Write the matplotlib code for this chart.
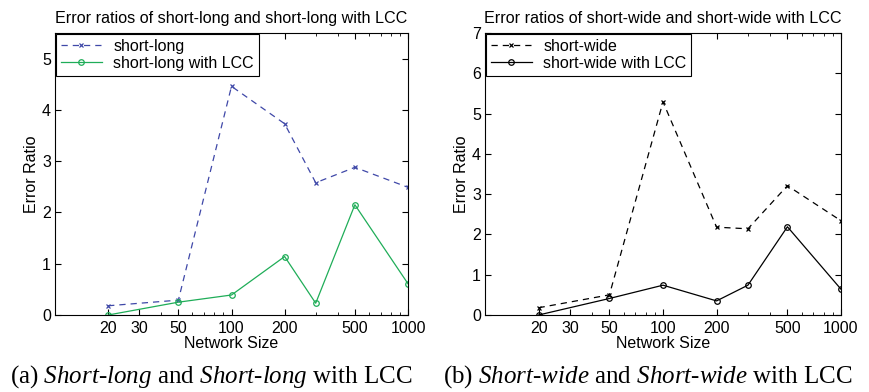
"""
Error ratios of the short-long / short-wide schemes, with and without LCC
"""

import matplotlib
matplotlib.use("Agg")
import matplotlib.pyplot as plt
from matplotlib.ticker import FixedLocator, FixedFormatter, NullFormatter, LogLocator

plt.rcParams['font.family'] = ['Liberation Sans', 'DejaVu Sans']
plt.rcParams['mathtext.fontset'] = 'custom'
plt.rcParams['mathtext.rm'] = 'Liberation Serif'
plt.rcParams['mathtext.it'] = 'Liberation Serif:italic'

sizes = [20, 50, 100, 200, 300, 500, 1000]

short_long = [0.18, 0.29, 4.46, 3.73, 2.58, 2.88, 2.49]
short_long_lcc = [0.0, 0.25, 0.39, 1.14, 0.23, 2.15, 0.61]

short_wide = [0.18, 0.50, 5.29, 2.18, 2.14, 3.21, 2.34]
short_wide_lcc = [0.0, 0.41, 0.74, 0.35, 0.74, 2.19, 0.64]

xticks = [20, 30, 50, 100, 200, 500, 1000]


def setup_axis(ax, ymax, title):
    ax.set_xscale('log')
    ax.set_xlim(10, 1000)
    ax.set_ylim(0, ymax)
    ax.xaxis.set_major_locator(FixedLocator(xticks))
    ax.xaxis.set_major_formatter(FixedFormatter([str(t) for t in xticks]))
    ax.xaxis.set_minor_locator(LogLocator(base=10, subs=range(2, 10)))
    ax.xaxis.set_minor_formatter(NullFormatter())
    ax.tick_params(which='both', direction='in', top=True, right=True,
                   labelsize=11.5, pad=3)
    ax.tick_params(axis='x', pad=4)
    ax.tick_params(which='major', length=4)
    ax.tick_params(which='minor', length=2)
    ax.set_title(title, fontsize=11.6, pad=7)
    ax.set_xlabel('Network Size', fontsize=11.5, labelpad=0)
    ax.set_ylabel('Error Ratio', fontsize=11.5, labelpad=2)
    for s in ax.spines.values():
        s.set_linewidth(0.8)


def add_legend(ax):
    leg = ax.legend(loc='upper left', fontsize=11.5, fancybox=False,
                    framealpha=1, edgecolor='black', borderaxespad=0.05,
                    handlelength=2.6, borderpad=0.3, labelspacing=0.15,
                    handletextpad=0.7)
    leg.get_frame().set_linewidth(0.8)


fig = plt.figure(figsize=(8.7, 3.92), dpi=100)

# left panel
ax1 = fig.add_axes([55 / 870, 1 - 315 / 392, 353 / 870, 282 / 392])
ax1.plot(sizes, short_long, '--x', color='#3f48a8', lw=0.9, ms=3.5, mew=0.9,
         label='short-long', dashes=(5, 4))
ax1.plot(sizes, short_long_lcc, '-o', color='#1fad58', lw=0.9, ms=4,
         mfc='none', mew=0.9, label='short-long with LCC')
setup_axis(ax1, 5.5, 'Error ratios of short-long and short-long with LCC')
ax1.set_yticks(range(0, 6))
add_legend(ax1)

# right panel
ax2 = fig.add_axes([485 / 870, 1 - 315 / 392, 356 / 870, 282 / 392])
ax2.plot(sizes, short_wide, '--x', color='black', lw=0.9, ms=3.5, mew=0.9,
         label='short-wide', dashes=(5, 4))
ax2.plot(sizes, short_wide_lcc, '-o', color='black', lw=0.9, ms=4,
         mfc='none', mew=0.9, label='short-wide with LCC')
setup_axis(ax2, 7, 'Error ratios of short-wide and short-wide with LCC')
ax2.set_yticks(range(0, 8))
add_legend(ax2)

# sub-figure captions
fig.text(211 / 870, 1 - 377 / 392,
         r'(a) $\mathit{Short}$-$\mathit{long}$ and $\mathit{Short}$-$\mathit{long}$ with LCC',
         ha='center', va='center', fontsize=18, family='Liberation Serif')
fig.text(648 / 870, 1 - 377 / 392,
         r'(b) $\mathit{Short}$-$\mathit{wide}$ and $\mathit{Short}$-$\mathit{wide}$ with LCC',
         ha='center', va='center', fontsize=18, family='Liberation Serif')

fig.savefig('out.png', dpi=100)
